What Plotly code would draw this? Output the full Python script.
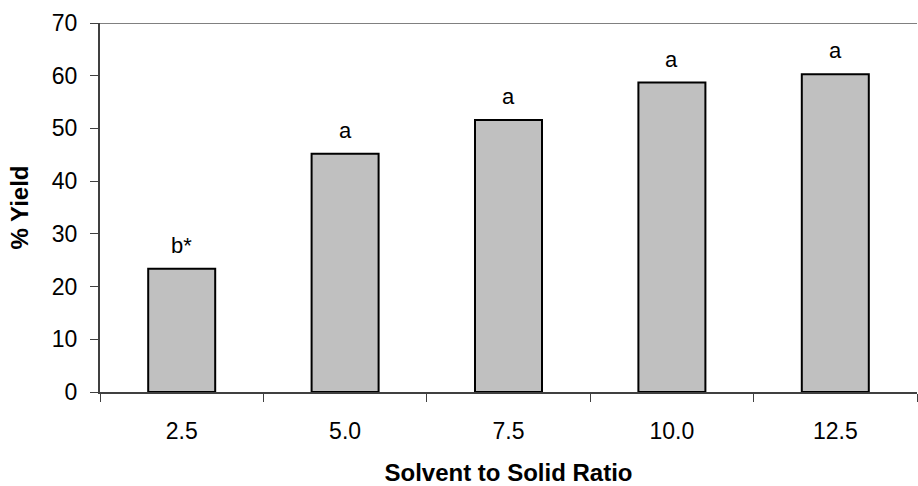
import plotly.graph_objects as go

categories = ["2.5", "5.0", "7.5", "10.0", "12.5"]
yield_pct = [23.4, 45.2, 51.6, 58.7, 60.3]
sig_labels = ["b*", "a", "a", "a", "a"]
y_ticks = [0, 10, 20, 30, 40, 50, 60, 70]

FONT = "Liberation Sans, Arial, sans-serif"

fig = go.Figure()
fig.add_trace(go.Bar(
    x=categories, y=yield_pct,
    marker=dict(color="#C0C0C0", line=dict(color="black", width=2)),
    width=0.41,
    hoverinfo="skip",
))

for i, (v, t) in enumerate(zip(yield_pct, sig_labels)):
    fig.add_annotation(x=i, y=v, text=t, showarrow=False, yanchor="bottom",
                       yshift=9, font=dict(family=FONT, size=22, color="black"))

fig.add_shape(type="line", xref="paper", x0=0, x1=1, yref="y", y0=70, y1=70,
              line=dict(color="#808080", width=2))

fig.update_layout(
    width=918, height=486,
    margin=dict(l=100, r=1, t=23, b=94),
    plot_bgcolor="white", paper_bgcolor="white",
    showlegend=False,
    font=dict(family=FONT, size=23, color="black"),
    xaxis=dict(
        type="category", range=[-0.5, 4.5], showgrid=False, showline=True,
        linecolor="#404040", linewidth=2,
        ticks="outside", tickson="boundaries", ticklen=8, tickcolor="#404040", tickwidth=1,
        ticklabelstandoff=17,
        title=dict(text="<b>Solvent to Solid Ratio</b>", font=dict(size=24), standoff=22),
    ),
    yaxis=dict(
        range=[0, 70], tickvals=y_ticks, showgrid=False, zeroline=False,
        showline=True, linecolor="#404040", linewidth=2,
        ticks="outside", ticklen=8, tickcolor="#404040", tickwidth=1,
        ticklabelstandoff=8,
        title=dict(text="<b>% Yield</b>", font=dict(size=24), standoff=16),
    ),
)

fig.write_html("out.html")
